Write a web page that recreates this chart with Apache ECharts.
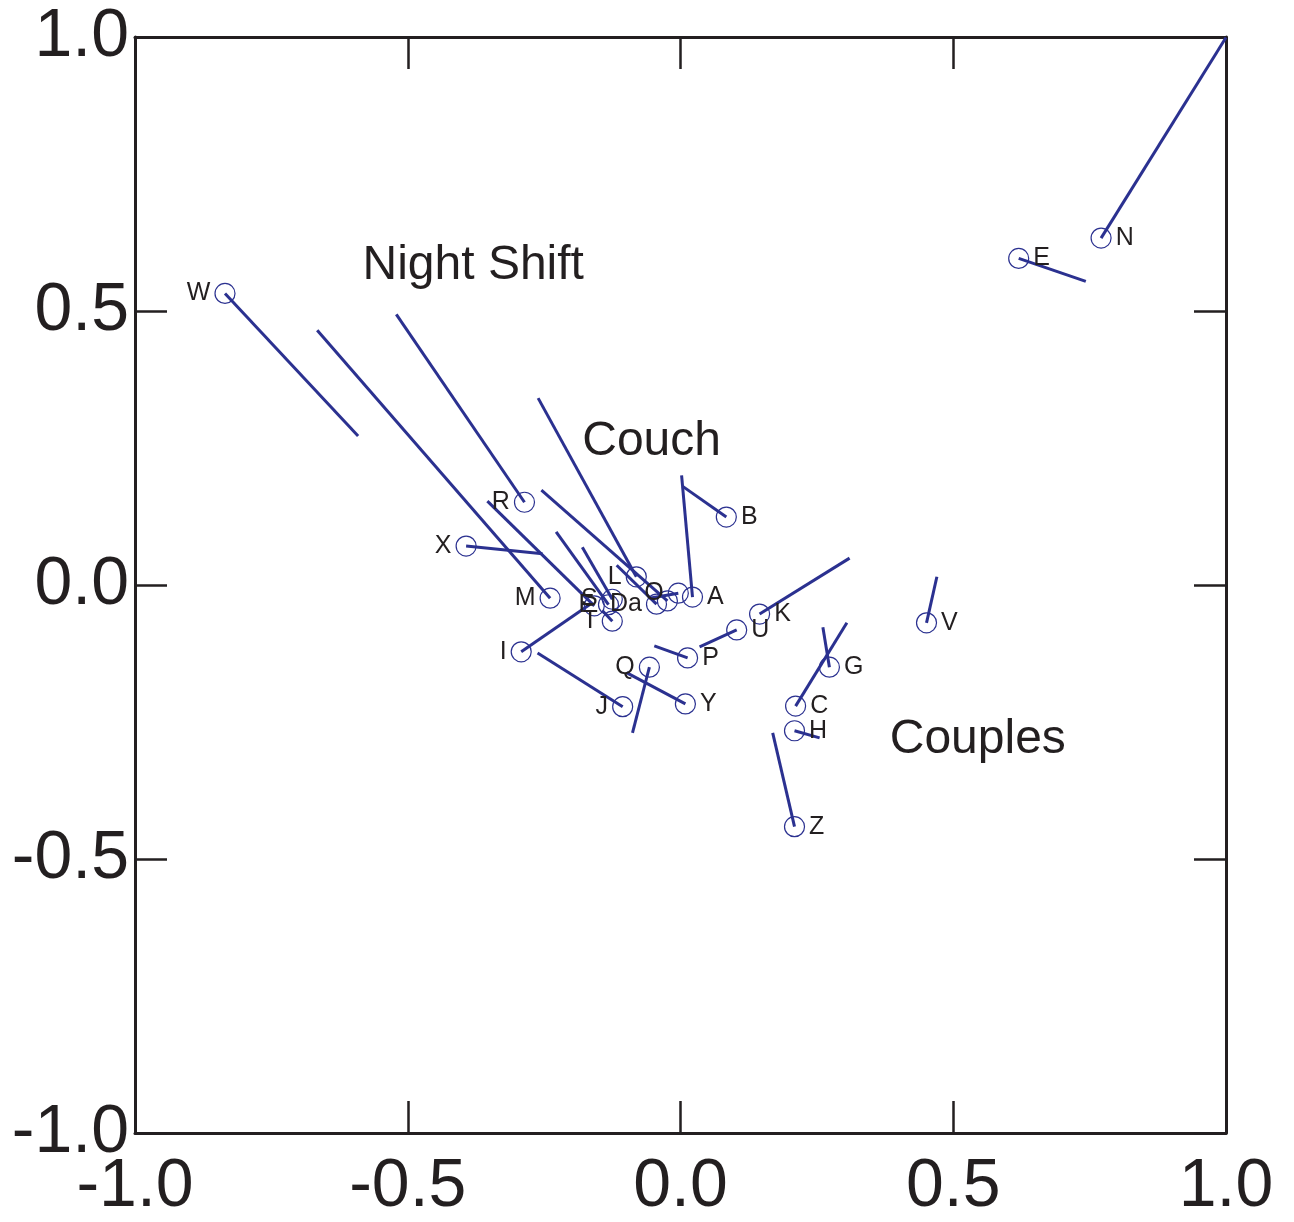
<!DOCTYPE html>
<html>
<head>
<meta charset="utf-8">
<title>Shift vectors</title>
<script src="https://cdn.jsdelivr.net/npm/echarts@6/dist/echarts.min.js"></script>
<style>
  html, body { margin: 0; padding: 0; background: #ffffff; }
  #chart { width: 1294px; height: 1222px; }
</style>
</head>
<body>
<div id="chart"></div>
<script>
// Each item: circle at (startX, startY), segment drawn to (endX, endY)
const itemLabels = ['W', 'N', 'E', 'R', 'X', 'B', 'A', 'M', 'L', 'S', 'F', 'T', 'I', 'Da', 'O', '', '', 'K', 'U', 'P', 'Q', 'Y', 'J', 'V', 'G', 'C', 'H', 'Z'];
const startX = [-0.835, 0.771, 0.620, -0.286, -0.393, 0.084, 0.022, -0.239, -0.081, -0.125, -0.132, -0.125, -0.292, -0.044, -0.004, -0.024, -0.158, 0.145, 0.103, 0.013, -0.057, 0.009, -0.106, 0.451, 0.273, 0.211, 0.209, 0.209];
const startY = [0.532, 0.633, 0.596, 0.151, 0.071, 0.124, -0.022, -0.024, 0.015, -0.026, -0.036, -0.066, -0.122, -0.035, -0.015, -0.029, -0.038, -0.053, -0.082, -0.133, -0.150, -0.217, -0.222, -0.069, -0.150, -0.221, -0.266, -0.441];
const endX = [-0.591, 1.000, 0.743, -0.521, -0.253, 0.004, 0.002, -0.666, -0.261, -0.180, -0.228, -0.143, -0.167, -0.117, -0.057, -0.255, -0.354, 0.310, 0.035, -0.048, -0.088, -0.099, -0.262, 0.470, 0.261, 0.305, 0.255, 0.169];
const endY = [0.272, 0.999, 0.554, 0.494, 0.057, 0.180, 0.200, 0.465, 0.341, 0.069, 0.097, -0.047, -0.036, 0.036, -0.024, 0.173, 0.153, 0.049, -0.113, -0.111, -0.270, -0.160, -0.124, 0.015, -0.077, -0.069, -0.279, -0.270];
const labelSide = ['left', 'right', 'right', 'left', 'left', 'right', 'right', 'left', 'left', 'left', 'left', 'left', 'left', 'left', 'left', 'left', 'left', 'right', 'right', 'right', 'left', 'right', 'left', 'right', 'right', 'right', 'right', 'right'];

// Group captions placed in data space
const groupNames = ['Night Shift', 'Couch', 'Couples'];
const groupX = [-0.380, -0.053, 0.545];
const groupY = [0.583, 0.261, -0.283];

const INK = '#231f20';
const BLUE = '#2b3190';
const FONT = '"Liberation Sans", Arial, sans-serif';

const segmentData = itemLabels.map((_, i) => ({
  coords: [[startX[i], startY[i]], [endX[i], endY[i]]]
}));

const circleData = itemLabels.map((name, i) => ({
  name: name,
  value: [startX[i], startY[i]],
  label: { position: labelSide[i] }
}));

const captionData = groupNames.map((name, i) => ({
  name: name,
  value: [groupX[i], groupY[i]]
}));

const baseAxis = {
  type: 'value',
  min: -1,
  max: 1,
  interval: 0.5,
  splitLine: { show: false },
  axisLine: { show: true, onZero: false, lineStyle: { color: INK, width: 3 } },
  axisTick: { show: true, inside: true, length: 32, lineStyle: { color: INK, width: 2.5 } }
};

const tickLabel = {
  color: INK,
  fontFamily: FONT,
  fontSize: 68,
  formatter: v => Number(v).toFixed(1)
};

const chart = echarts.init(document.getElementById('chart'), null, { renderer: 'canvas' });

chart.setOption({
  animation: false,
  backgroundColor: '#ffffff',
  grid: { left: 135, right: 68, top: 37, bottom: 89, containLabel: false },
  xAxis: [
    Object.assign({}, baseAxis, {
      position: 'bottom',
      axisLabel: Object.assign({}, tickLabel, { margin: 20 })
    }),
    Object.assign({}, baseAxis, {
      position: 'top',
      axisLabel: { show: false }
    })
  ],
  yAxis: [
    Object.assign({}, baseAxis, {
      position: 'left',
      axisLabel: Object.assign({}, tickLabel, { margin: 6 })
    }),
    Object.assign({}, baseAxis, {
      position: 'right',
      axisLabel: { show: false }
    })
  ],
  series: [
    {
      type: 'lines',
      coordinateSystem: 'cartesian2d',
      xAxisIndex: 0,
      yAxisIndex: 0,
      data: segmentData,
      lineStyle: { color: BLUE, width: 3, opacity: 1, curveness: 0 },
      symbol: ['none', 'none'],
      silent: true,
      z: 3
    },
    {
      type: 'scatter',
      xAxisIndex: 0,
      yAxisIndex: 0,
      data: circleData,
      symbol: 'circle',
      symbolSize: 20,
      itemStyle: { color: 'rgba(255,255,255,0)', borderColor: BLUE, borderWidth: 1.2, opacity: 1 },
      label: {
        show: true,
        formatter: p => p.name,
        distance: 4,
        color: INK,
        fontFamily: FONT,
        fontSize: 25
      },
      z: 4
    },
    {
      type: 'scatter',
      xAxisIndex: 0,
      yAxisIndex: 0,
      data: captionData,
      symbolSize: 0,
      itemStyle: { opacity: 1 },
      label: {
        show: true,
        position: 'inside',
        formatter: p => p.name,
        color: INK,
        fontFamily: FONT,
        fontSize: 48
      },
      silent: true,
      z: 5
    }
  ]
});
</script>
</body>
</html>
